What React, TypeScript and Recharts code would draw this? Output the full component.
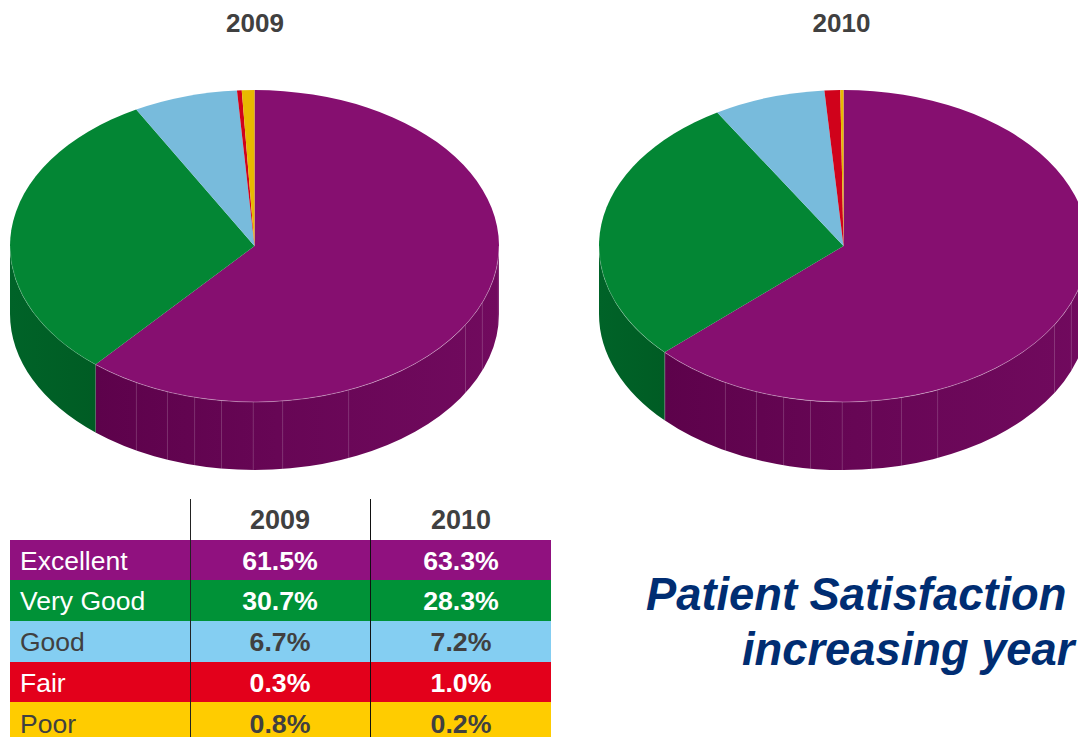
import React from "react";
import { PieChart, Pie } from "recharts";

const categories = ["Excellent", "Very Good", "Good", "Fair", "Poor"];
const values2009 = [61.5, 30.7, 6.7, 0.3, 0.8];
const values2010 = [63.3, 28.3, 7.2, 1.0, 0.2];
const years = ["2009", "2010"];
const headline = ["Patient Satisfaction", "increasing year"];

const topColors = ["#860f70", "#038634", "#78bbdc", "#d0021b", "#e8b900"];
const tableColors = ["#90117f", "#009237", "#84cef2", "#e3001b", "#ffcc00"];
const tableText = ["#fff", "#fff", "#404040", "#fff", "#404040"];
const wallFills = ["url(#wallPurple)", "url(#wallGreen)", "#5a8fa8", "#9c0114", "#b08a00"];
const rimOpacity = [0.36, 0.2, 0.2, 0.2, 0.2];
const facets2009 = [-0.483, -0.356, -0.245, -0.135, -0.005, 0.115, 0.385, 0.863, 0.932, 0.997];
const facets2010 = [-0.73, -0.483, -0.356, -0.245, -0.135, -0.005, 0.115, 0.237, 0.385, 0.863, 0.932];

const FONT = "'Liberation Sans', Arial, sans-serif";
const SQUASH = 156 / 244.5;
const DEPTH = 68;
const RAD = Math.PI / 180;

// Slight perspective of the tilted disc: seams on the near side sit a little
// further round than the plain ellipse puts them.
const warp = (a: number) => {
  const t = 90 - a; // degrees clockwise from 12 o'clock
  if (t <= 0 || t >= 360) return a;
  let d = 0.85;
  if (t < 200) d = (0.85 * t) / 200;
  else if (t > 338) d = (0.85 * (360 - t)) / 22;
  return a + d;
};

const makeShape = (facets: number[]) => (props: any) => {
  const { cx, cy, outerRadius: rx, index } = props;
  const startAngle = warp(props.startAngle);
  const endAngle = warp(props.endAngle);
  const ry = rx * SQUASH;
  const pt = (a: number) => [cx + rx * Math.cos(a * RAD), cy - ry * Math.sin(a * RAD)];
  const [sx, sy] = pt(startAngle);
  const [ex, ey] = pt(endAngle);
  const large = startAngle - endAngle > 180 ? 1 : 0;
  const top = `M${cx},${cy}L${sx},${sy}A${rx},${ry} 0 ${large} 1 ${ex},${ey}Z`;

  const a1 = Math.min(startAngle, 0);
  const a2 = Math.max(endAngle, -180);
  let wall = null;
  let rim = null;
  if (a1 > a2) {
    const [wx1, wy1] = pt(a1);
    const [wx2, wy2] = pt(a2);
    wall = (
      <path
        d={`M${wx1},${wy1}A${rx},${ry} 0 0 1 ${wx2},${wy2}L${wx2},${wy2 + DEPTH}A${rx},${ry} 0 0 0 ${wx1},${wy1 + DEPTH}Z`}
        fill={wallFills[index]}
      />
    );
    rim = (
      <path
        d={`M${wx1},${wy1}A${rx},${ry} 0 0 1 ${wx2},${wy2}`}
        fill="none"
        stroke="#ffffff"
        strokeOpacity={rimOpacity[index]}
        strokeWidth={0.9}
      />
    );
  }
  return (
    <g>
      {wall}
      {index === 0 &&
        facets.map((f) => {
          const x = cx + f * rx;
          const y = cy + ry * Math.sqrt(1 - f * f);
          return (
            <line
              key={f}
              x1={x}
              x2={x}
              y1={y}
              y2={y + DEPTH}
              stroke="#ffffff"
              strokeOpacity={0.2}
              strokeWidth={0.9}
            />
          );
        })}
      <path d={top} fill={topColors[index]} />
      {rim}
    </g>
  );
};

const toRows = (vals: number[]) => categories.map((name, i) => ({ name, value: vals[i] }));

const abs = (left: number, top: number, width: number, height: number): React.CSSProperties => ({
  position: "absolute",
  left,
  top,
  width,
  height,
});

const rowTops = [540, 580, 621, 662, 702];
const rowHeights = [40, 41, 41, 40, 42];

export default function App() {
  return (
    <div style={{ ...abs(0, 0, 1078, 737), overflow: "hidden", background: "#fff", fontFamily: FONT }}>
      <div style={abs(0, 0, 1078, 737)}>
        <PieChart width={1078} height={737} margin={{ top: 0, right: 0, bottom: 0, left: 0 }}>
          <defs>
            <linearGradient id="wallPurple" x1="0" x2="1" y1="0" y2="0">
              <stop offset="0" stopColor="#5d024b" />
              <stop offset="0.45" stopColor="#670655" />
              <stop offset="1" stopColor="#710a5e" />
            </linearGradient>
            <linearGradient id="wallGreen" x1="0" x2="1" y1="0" y2="0">
              <stop offset="0" stopColor="#006328" />
              <stop offset="1" stopColor="#005c24" />
            </linearGradient>
          </defs>
          <Pie
            data={toRows(values2009)}
            dataKey="value"
            nameKey="name"
            cx={254.5}
            cy={246}
            innerRadius={0}
            outerRadius={244.5}
            startAngle={90}
            endAngle={-270}
            isAnimationActive={false}
            shape={makeShape(facets2009)}
          />
          <Pie
            data={toRows(values2010)}
            dataKey="value"
            nameKey="name"
            cx={843.5}
            cy={246}
            innerRadius={0}
            outerRadius={244.5}
            startAngle={90}
            endAngle={-270}
            isAnimationActive={false}
            shape={makeShape(facets2010)}
          />
        </PieChart>
      </div>

      {years.map((y, i) => (
        <div
          key={y}
          style={{
            ...abs(i === 0 ? 155 : 741.5, 8, 200, 30),
            textAlign: "center",
            fontWeight: 700,
            fontSize: 26,
            lineHeight: "30px",
            color: "#404040",
          }}
        >
          {y}
        </div>
      ))}

      {years.map((y, i) => (
        <div
          key={"h" + y}
          style={{
            ...abs(i === 0 ? 190 : 371, 504, 180, 32),
            textAlign: "center",
            fontWeight: 700,
            fontSize: 27,
            lineHeight: "32px",
            color: "#404040",
          }}
        >
          {y}
        </div>
      ))}

      {categories.map((c, i) => (
        <div key={c} style={{ ...abs(10, rowTops[i], 541, rowHeights[i]), background: tableColors[i], color: tableText[i] }}>
          <div style={{ ...abs(10, 1, 170, rowHeights[i]), fontSize: 26.5, lineHeight: rowHeights[i] + "px" }}>{c}</div>
          {[values2009, values2010].map((vals, k) => (
            <div
              key={k}
              style={{
                ...abs(k === 0 ? 180 : 361, 1, 180, rowHeights[i]),
                textAlign: "center",
                fontWeight: 700,
                fontSize: 26.7,
                lineHeight: rowHeights[i] + "px",
              }}
            >
              {vals[i].toFixed(1)}%
            </div>
          ))}
        </div>
      ))}

      <div style={{ ...abs(190, 499, 1, 238), background: "#222" }} />
      <div style={{ ...abs(370, 499, 1, 238), background: "#111" }} />

      <div
        style={{
          ...abs(646, 567, 440, 56),
          fontWeight: 700,
          fontStyle: "italic",
          fontSize: 45.3,
          lineHeight: "56px",
          color: "#002d72",
          whiteSpace: "nowrap",
        }}
      >
        {headline[0]}
      </div>
      <div
        style={{
          ...abs(742, 622, 340, 56),
          fontWeight: 700,
          fontStyle: "italic",
          fontSize: 45.3,
          lineHeight: "56px",
          color: "#002d72",
          whiteSpace: "nowrap",
        }}
      >
        {headline[1]}
      </div>
    </div>
  );
}
